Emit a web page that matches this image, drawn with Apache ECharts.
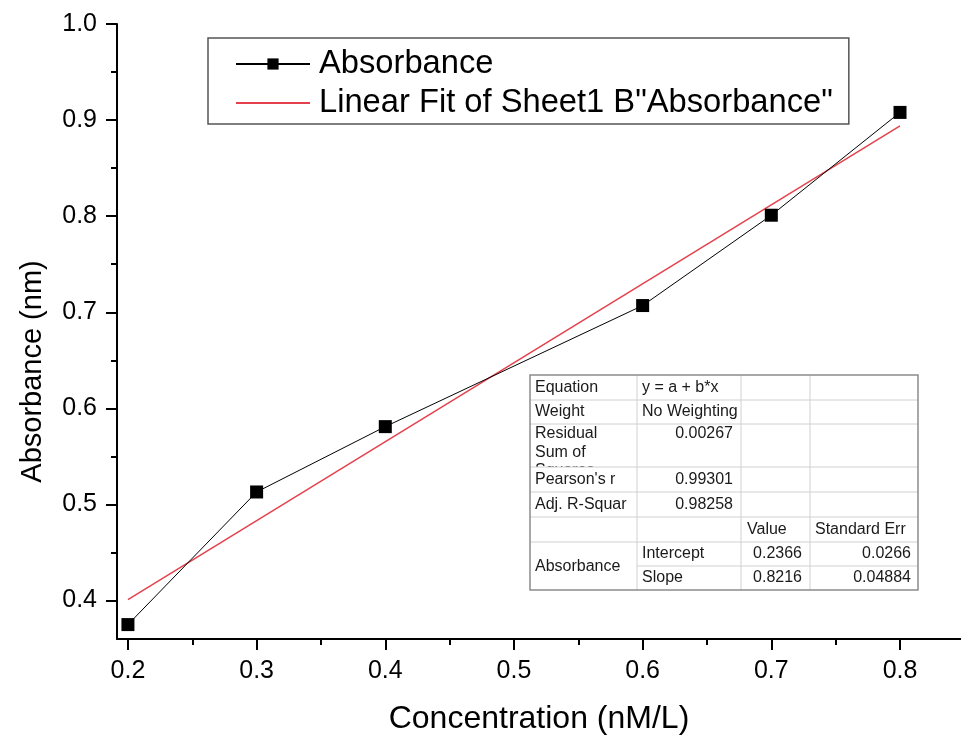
<!DOCTYPE html>
<html><head><meta charset="utf-8">
<script src="https://cdn.jsdelivr.net/npm/echarts@6/dist/echarts.min.js"></script>
<style>html,body{margin:0;padding:0;background:#fff}#c{width:961px;height:737px}</style>
</head><body><div id="c"></div>
<script>
// ---- data ----
const concentration = [0.2, 0.3, 0.4, 0.6, 0.7, 0.8];
const absorbance = [0.375, 0.513, 0.581, 0.707, 0.801, 0.908];
const fitX = [0.2, 0.8];
const fitY = [0.401, 0.894];
const xTickLabels = ['0.2', '0.3', '0.4', '0.5', '0.6', '0.7', '0.8'];
const yTickLabels = ['0.4', '0.5', '0.6', '0.7', '0.8', '0.9', '1.0'];
const seriesNames = ['Absorbance', 'Linear Fit of Sheet1 B"Absorbance"'];
const xAxisName = 'Concentration (nM/L)';
const yAxisName = 'Absorbance (nm)';
// fit-result table text
const tableCol0 = ['Equation', 'Weight', 'Residual\nSum of\nSquares', "Pearson's r", 'Adj. R-Squar', '', 'Absorbance'];
const tableCol1 = ['y = a + b*x', 'No Weighting', '0.00267', '0.99301', '0.98258', '', 'Intercept', 'Slope'];
const tableHeader = ['Value', 'Standard Err'];
const tableValue = ['0.2366', '0.8216'];
const tableStdErr = ['0.0266', '0.04884'];

// ---- layout ----
const FONT = '"Liberation Sans", Arial, sans-serif';
const X0 = 117, X1 = 961, Y0 = 24, Y1 = 639;
const xMin = 0.1915, xMax = 0.8474, yMin = 0.36, yMax = 1.0;
const px = v => X0 + (v - xMin) / (xMax - xMin) * (X1 - X0);
const py = v => Y1 - (v - yMin) / (yMax - yMin) * (Y1 - Y0);

const chart = echarts.init(document.getElementById('c'), null, {renderer: 'canvas'});

// table geometry
const TL = 530, TR = 918, TT = 375, TB = 590;
const colX = [TL, 637, 741, 810, TR];
const rowY = [TT, 400, 424, 467, 492, 517, 542, 566, TB];
const tFont = '16px ' + FONT;
const tColor = '#1a1a1a';
const g = [];
g.push({type: 'rect', z: 100, shape: {x: TL, y: TT, width: TR - TL, height: TB - TT}, style: {fill: '#fff'}});
function txt(text, x, y, align, z) {
  g.push({type: 'text', z: z || 104, style: {text: text, x: x, y: y, font: tFont, fill: tColor, align: align, verticalAlign: 'middle'}});
}
// clipped multi-line label
g.push({type: 'text', z: 101, style: {text: tableCol0[2], x: colX[0] + 5, y: rowY[2] + 0.5, font: tFont, lineHeight: 18.5, fill: tColor, align: 'left', verticalAlign: 'top'}});
g.push({type: 'rect', z: 102, shape: {x: colX[0] + 1, y: rowY[3], width: colX[1] - colX[0] - 2, height: 24}, style: {fill: '#fff'}});
// grid lines
for (let i = 1; i < rowY.length - 1; i++) {
  const x0 = (i === 7) ? colX[1] : TL;
  g.push({type: 'line', z: 103, shape: {x1: x0, y1: rowY[i], x2: TR, y2: rowY[i]}, style: {stroke: '#d0d0d0', lineWidth: 1}});
}
for (let j = 1; j < colX.length - 1; j++) {
  g.push({type: 'line', z: 103, shape: {x1: colX[j], y1: TT, x2: colX[j], y2: TB}, style: {stroke: '#d0d0d0', lineWidth: 1}});
}
// col 0
[0, 1, 3, 4].forEach(r => txt(tableCol0[r], colX[0] + 5, (rowY[r] + rowY[r + 1]) / 2, 'left'));
txt(tableCol0[6], colX[0] + 5, (rowY[6] + rowY[8]) / 2 + 1, 'left');
// col 1
txt(tableCol1[0], colX[1] + 5, (rowY[0] + rowY[1]) / 2, 'left');
txt(tableCol1[1], colX[1] + 5, (rowY[1] + rowY[2]) / 2, 'left');
txt(tableCol1[2], colX[2] - 8, rowY[2] + 9.5, 'right');
txt(tableCol1[3], colX[2] - 8, (rowY[3] + rowY[4]) / 2, 'right');
txt(tableCol1[4], colX[2] - 8, (rowY[4] + rowY[5]) / 2, 'right');
txt(tableCol1[6], colX[1] + 5, (rowY[6] + rowY[7]) / 2, 'left');
txt(tableCol1[7], colX[1] + 5, (rowY[7] + rowY[8]) / 2, 'left');
// header & values
txt(tableHeader[0], colX[2] + 6, (rowY[5] + rowY[6]) / 2, 'left');
txt(tableHeader[1], colX[3] + 5, (rowY[5] + rowY[6]) / 2, 'left');
tableValue.forEach((t, k) => txt(t, colX[3] - 8, (rowY[6 + k] + rowY[7 + k]) / 2, 'right'));
tableStdErr.forEach((t, k) => txt(t, colX[4] - 7, (rowY[6 + k] + rowY[7 + k]) / 2, 'right'));
// outer border
g.push({type: 'rect', z: 105, shape: {x: TL, y: TT, width: TR - TL, height: TB - TT}, style: {fill: null, stroke: '#8c8c8c', lineWidth: 1.5}});

const tickStyle = {color: '#000', width: 2};
const labelStyle = {fontSize: 25, color: '#000', fontFamily: FONT, margin: 20};

chart.setOption({
  animation: false,
  backgroundColor: '#fff',
  grid: [
    {left: X0, right: 961 - X1, top: Y0, bottom: 737 - Y1, outerBoundsMode: 'none', containLabel: false},
    {left: px(0.2), right: 961 - px(0.8), top: py(1.0), bottom: 737 - py(0.4), outerBoundsMode: 'none', containLabel: false}
  ],
  xAxis: [
    {gridIndex: 0, type: 'value', min: xMin, max: xMax,
     axisLine: {show: true, lineStyle: {color: '#000', width: 2}},
     axisTick: {show: false}, axisLabel: {show: false}, splitLine: {show: false},
     name: xAxisName, nameLocation: 'middle', nameGap: 64,
     nameTextStyle: {fontSize: 32, color: '#000', fontFamily: FONT, lineHeight: 32}},
    {gridIndex: 1, type: 'value', min: 0.2, max: 0.8, interval: 0.1, offset: Y1 - py(0.4),
     axisLine: {show: false},
     axisTick: {show: true, inside: false, length: 11, lineStyle: tickStyle},
     minorTick: {show: true, splitNumber: 2, length: 6, lineStyle: tickStyle},
     axisLabel: Object.assign({formatter: (v, i) => xTickLabels[i]}, labelStyle),
     splitLine: {show: false}, minorSplitLine: {show: false}}
  ],
  yAxis: [
    {gridIndex: 0, type: 'value', min: yMin, max: yMax,
     axisLine: {show: true, lineStyle: {color: '#000', width: 2}},
     axisTick: {show: false}, axisLabel: {show: false}, splitLine: {show: false},
     name: yAxisName, nameLocation: 'middle', nameGap: 70,
     nameTextStyle: {fontSize: 29, color: '#000', fontFamily: FONT, lineHeight: 29, padding: [0, 80, 0, 0]}},
    {gridIndex: 1, type: 'value', min: 0.4, max: 1.0, interval: 0.1, offset: px(0.2) - X0,
     axisLine: {show: false},
     axisTick: {show: true, inside: false, length: 11, lineStyle: tickStyle},
     minorTick: {show: true, splitNumber: 2, length: 6, lineStyle: tickStyle},
     axisLabel: Object.assign({formatter: (v, i) => yTickLabels[i]}, labelStyle),
     splitLine: {show: false}, minorSplitLine: {show: false}}
  ],
  legend: {
    orient: 'vertical', left: 208, top: 38,
    padding: [9, 16, 4, 27], itemGap: 5, itemWidth: 74, itemHeight: 14,
    borderColor: '#555', borderWidth: 1.5, backgroundColor: '#fff',
    selectedMode: false,
    textStyle: {fontSize: 32.7, color: '#000', fontFamily: FONT, lineHeight: 34, padding: [0, 0, 0, 4]},
    data: [{name: seriesNames[0]}, {name: seriesNames[1], itemStyle: {opacity: 0}}]
  },
  series: [
    {name: seriesNames[1], type: 'line', xAxisIndex: 0, yAxisIndex: 0,
     data: fitX.map((x, i) => [x, fitY[i]]), symbol: 'none', silent: true,
     lineStyle: {color: '#e5414d', width: 1.5}, itemStyle: {color: '#e5414d'}, z: 2},
    {name: seriesNames[0], type: 'line', xAxisIndex: 0, yAxisIndex: 0,
     data: concentration.map((x, i) => [x, absorbance[i]]),
     symbol: 'rect', symbolSize: 13, silent: true,
     itemStyle: {color: '#000'}, lineStyle: {color: '#000', width: 1}, z: 3}
  ],
  graphic: g
});
</script>
</body></html>
